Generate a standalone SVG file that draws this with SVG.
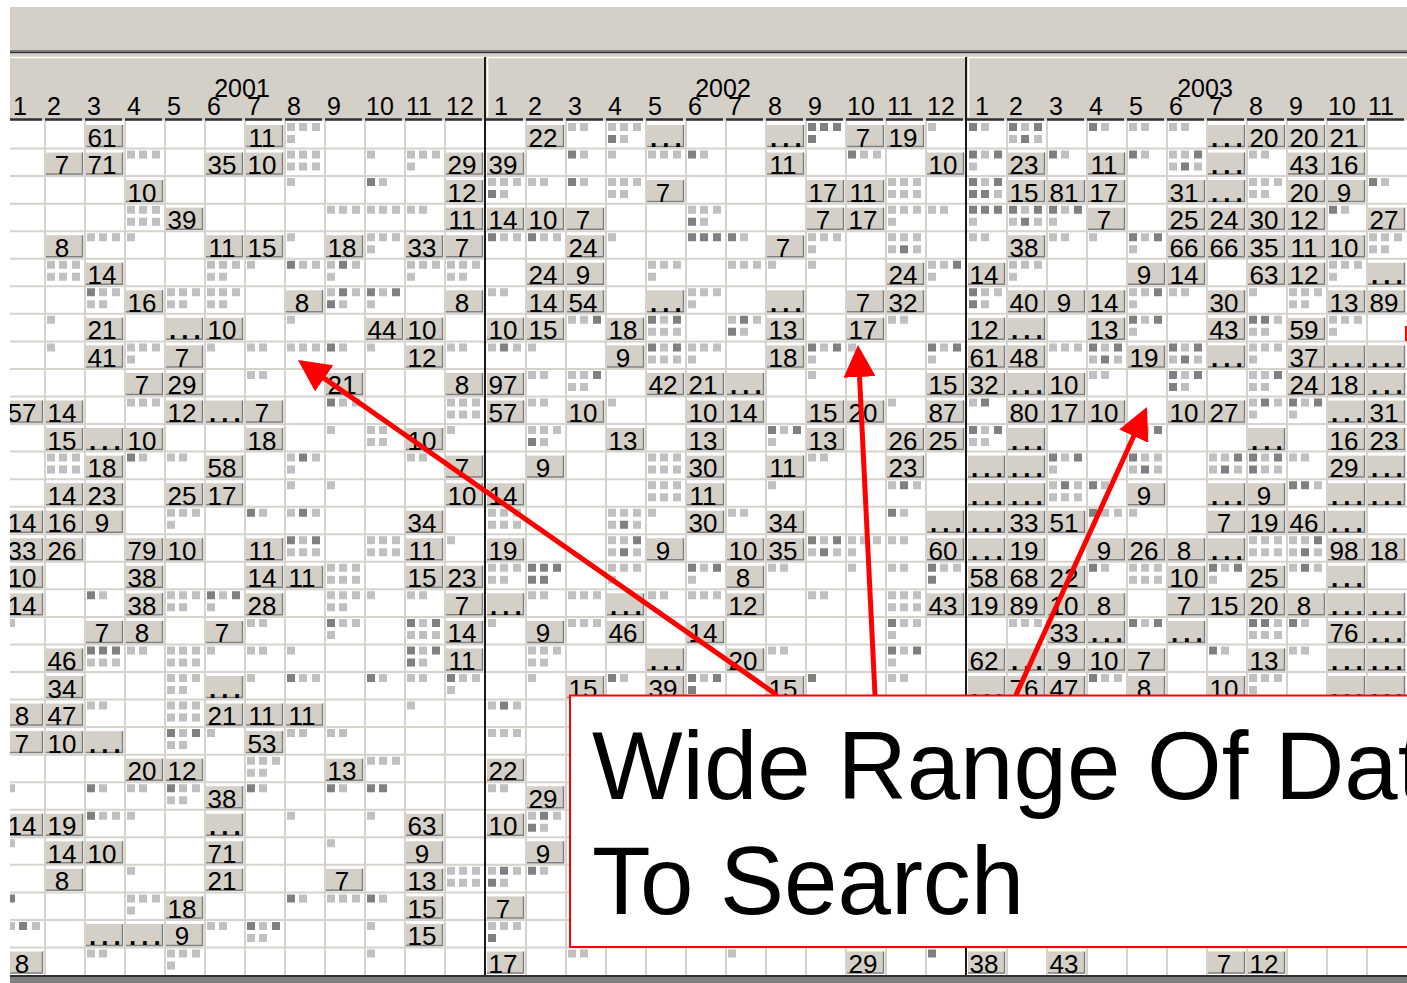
<svg xmlns="http://www.w3.org/2000/svg" width="1407" height="983" viewBox="0 0 1407 983">
<style>
text{font-family:"Liberation Sans",Arial,sans-serif;fill:#000}
.n{font-size:26px;text-anchor:middle}
.e{font-size:26px;letter-spacing:5px;font-weight:bold}
.h{font-size:25px}
.yr{font-size:25px;text-anchor:middle}
.L{fill:none;stroke:#c0c0c0;stroke-width:8}
.D{fill:none;stroke:#808080;stroke-width:8}
.grid{fill:none;stroke:#d6d3cc;stroke-width:2}
.ul{fill:none;stroke:#303030;stroke-width:2.5}
.arrow{fill:none;stroke:#ff0000;stroke-width:5;marker-end:url(#ah)}
.callout{fill:#fff;stroke:#ff0000;stroke-width:2}
.ct{font-size:96px}
</style>
<defs>
<g id="b"><rect x="1" y="4" width="37" height="22" fill="#d4d0c8"/><path d="M37.5 4V25.5H1" fill="none" stroke="#808080" stroke-width="1.5"/></g>
<marker id="ah" viewBox="0 0 32 32" markerUnits="userSpaceOnUse" markerWidth="32" markerHeight="32" refX="26" refY="16" orient="auto"><path d="M0 0L32 16L0 32z" fill="#ff0000"/></marker>
</defs>
<rect x="0" y="0" width="1407" height="983" fill="#fff"/>
<g id="toolbar">
<rect x="10" y="7" width="1397" height="43" fill="#d4d0c8"/>
<rect x="10" y="50" width="1397" height="1.5" fill="#808080"/>
<rect x="10" y="51.5" width="1397" height="2" fill="#303030"/>
<rect x="10" y="53.5" width="1397" height="67" fill="#d4d0c8"/>
<path d="M10 57.5H484M487 57.5H965M968 57.5H1407M487.5 58V117M968.5 58V117" fill="none" stroke="#fff" stroke-width="1.5"/>
</g>
<g id="gridlines">
<path class="grid" d="M45 121V975M85 121V975M125 121V975M165 121V975M205 121V975M245 121V975M285 121V975M325 121V975M365 121V975M405 121V975M445 121V975M526 121V975M566 121V975M606 121V975M646 121V975M686 121V975M726 121V975M766 121V975M806 121V975M846 121V975M886 121V975M926 121V975M1007 121V975M1047 121V975M1087 121V975M1127 121V975M1167 121V975M1207 121V975M1247 121V975M1287 121V975M1327 121V975M1367 121V975"/>
<path class="grid" d="M10 148.55H1407M10 176.1H1407M10 203.65H1407M10 231.2H1407M10 258.75H1407M10 286.3H1407M10 313.85H1407M10 341.4H1407M10 368.95H1407M10 396.5H1407M10 424.05H1407M10 451.6H1407M10 479.15H1407M10 506.7H1407M10 534.25H1407M10 561.8H1407M10 589.35H1407M10 616.9H1407M10 644.45H1407M10 672H1407M10 699.55H1407M10 727.1H1407M10 754.65H1407M10 782.2H1407M10 809.75H1407M10 837.3H1407M10 864.85H1407M10 892.4H1407M10 919.95H1407M10 947.5H1407"/>
</g>
<g id="header">
<path class="ul" d="M5 119.5h37M45 119.5h37M85 119.5h37M125 119.5h37M165 119.5h37M205 119.5h37M245 119.5h37M285 119.5h37M325 119.5h37M365 119.5h37M405 119.5h37M445 119.5h37M486 119.5h37M526 119.5h37M566 119.5h37M606 119.5h37M646 119.5h37M686 119.5h37M726 119.5h37M766 119.5h37M806 119.5h37M846 119.5h37M886 119.5h37M926 119.5h37M967 119.5h37M1007 119.5h37M1047 119.5h37M1087 119.5h37M1127 119.5h37M1167 119.5h37M1207 119.5h37M1247 119.5h37M1287 119.5h37M1327 119.5h37M1367 119.5h37"/>
<text class="yr" x="242" y="97">2001</text>
<text class="yr" x="723" y="97">2002</text>
<text class="yr" x="1205" y="97">2003</text>
<text class="h" x="13" y="115">1</text><text class="h" x="47" y="115">2</text><text class="h" x="87" y="115">3</text><text class="h" x="127" y="115">4</text><text class="h" x="167" y="115">5</text><text class="h" x="207" y="115">6</text><text class="h" x="247" y="115">7</text><text class="h" x="287" y="115">8</text><text class="h" x="327" y="115">9</text><text class="h" x="366" y="115">10</text><text class="h" x="406" y="115">11</text><text class="h" x="446" y="115">12</text>
<text class="h" x="494" y="115">1</text><text class="h" x="528" y="115">2</text><text class="h" x="568" y="115">3</text><text class="h" x="608" y="115">4</text><text class="h" x="648" y="115">5</text><text class="h" x="688" y="115">6</text><text class="h" x="728" y="115">7</text><text class="h" x="768" y="115">8</text><text class="h" x="808" y="115">9</text><text class="h" x="847" y="115">10</text><text class="h" x="887" y="115">11</text><text class="h" x="927" y="115">12</text>
<text class="h" x="975" y="115">1</text><text class="h" x="1009" y="115">2</text><text class="h" x="1049" y="115">3</text><text class="h" x="1089" y="115">4</text><text class="h" x="1129" y="115">5</text><text class="h" x="1169" y="115">6</text><text class="h" x="1209" y="115">7</text><text class="h" x="1249" y="115">8</text><text class="h" x="1289" y="115">9</text><text class="h" x="1328" y="115">10</text><text class="h" x="1368" y="115">11</text>
</g>
<g id="r0" transform="translate(0,121)">
<path class="L" d="M287 6h8m4 0h8m5 0h8M287 18h8M568 6h8m4 0h8M608 6h8m4 0h8m5 0h8M620 18h8M928 6h8M981 6h8M1021 6h8M1009 18h8M1034 18h8M1101 6h8M1129 6h8m4 0h8M1169 6h8m4 0h8"/>
<path class="D" d="M608 18h8M808 6h8m4 0h8m5 0h8M808 18h8M969 6h8M1009 6h8M1034 6h8M1021 18h8M1089 6h8"/>
<use href="#b" x="85"/><text class="n" x="102" y="25.5">61</text>
<use href="#b" x="245"/><text class="n" x="262" y="25.5">11</text>
<use href="#b" x="526"/><text class="n" x="543" y="25.5">22</text>
<use href="#b" x="646"/><text class="e" x="650" y="25.5">...</text>
<use href="#b" x="766"/><text class="e" x="770" y="25.5">...</text>
<use href="#b" x="846"/><text class="n" x="863" y="25.5">7</text>
<use href="#b" x="886"/><text class="n" x="903" y="25.5">19</text>
<use href="#b" x="1207"/><text class="e" x="1211" y="25.5">...</text>
<use href="#b" x="1247"/><text class="n" x="1264" y="25.5">20</text>
<use href="#b" x="1287"/><text class="n" x="1304" y="25.5">20</text>
<use href="#b" x="1327"/><text class="n" x="1344" y="25.5">21</text>
</g>
<g id="r1" transform="translate(0,148.55)">
<path class="L" d="M127 6h8m4 0h8m5 0h8M287 6h8m4 0h8m5 0h8M287 18h8m4 0h8m5 0h8M367 6h8M407 6h8m4 0h8m5 0h8M407 18h8M580 6h8M608 6h8M648 6h8m4 0h8m5 0h8M700 6h8M860 6h8m5 0h8M981 6h8M969 18h8M1061 6h8M1141 6h8M1169 6h8m4 0h8M1169 18h8M1194 18h8M1249 6h8m4 0h8"/>
<path class="D" d="M568 6h8M688 6h8M848 6h8M969 6h8M994 6h8M1049 6h8M1129 6h8M1194 6h8M1181 18h8"/>
<use href="#b" x="45"/><text class="n" x="62" y="25.5">7</text>
<use href="#b" x="85"/><text class="n" x="102" y="25.5">71</text>
<use href="#b" x="205"/><text class="n" x="222" y="25.5">35</text>
<use href="#b" x="245"/><text class="n" x="262" y="25.5">10</text>
<use href="#b" x="445"/><text class="n" x="462" y="25.5">29</text>
<use href="#b" x="486"/><text class="n" x="503" y="25.5">39</text>
<use href="#b" x="766"/><text class="n" x="783" y="25.5">11</text>
<use href="#b" x="926"/><text class="n" x="943" y="25.5">10</text>
<use href="#b" x="1007"/><text class="n" x="1024" y="25.5">23</text>
<use href="#b" x="1087"/><text class="n" x="1104" y="25.5">11</text>
<use href="#b" x="1207"/><text class="e" x="1211" y="25.5">...</text>
<use href="#b" x="1287"/><text class="n" x="1304" y="25.5">43</text>
<use href="#b" x="1327"/><text class="n" x="1344" y="25.5">16</text>
</g>
<g id="r2" transform="translate(0,176.1)">
<path class="L" d="M287 6h8M379 6h8M488 6h8m4 0h8m5 0h8M500 18h8M528 6h8m4 0h8M580 6h8M608 6h8m4 0h8m5 0h8M608 18h8m4 0h8M888 6h8m4 0h8m5 0h8M888 18h8m4 0h8m5 0h8M981 6h8M994 18h8M1249 6h8m4 0h8m5 0h8M1249 18h8m4 0h8M1381 6h8"/>
<path class="D" d="M367 6h8M488 18h8M568 6h8M969 6h8M994 6h8M969 18h8m4 0h8M1369 6h8"/>
<use href="#b" x="125"/><text class="n" x="142" y="25.5">10</text>
<use href="#b" x="445"/><text class="n" x="462" y="25.5">12</text>
<use href="#b" x="646"/><text class="n" x="663" y="25.5">7</text>
<use href="#b" x="806"/><text class="n" x="823" y="25.5">17</text>
<use href="#b" x="846"/><text class="n" x="863" y="25.5">11</text>
<use href="#b" x="1007"/><text class="n" x="1024" y="25.5">15</text>
<use href="#b" x="1047"/><text class="n" x="1064" y="25.5">81</text>
<use href="#b" x="1087"/><text class="n" x="1104" y="25.5">17</text>
<use href="#b" x="1167"/><text class="n" x="1184" y="25.5">31</text>
<use href="#b" x="1207"/><text class="e" x="1211" y="25.5">...</text>
<use href="#b" x="1287"/><text class="n" x="1304" y="25.5">20</text>
<use href="#b" x="1327"/><text class="n" x="1344" y="25.5">9</text>
</g>
<g id="r3" transform="translate(0,203.65)">
<path class="L" d="M127 6h8m4 0h8m5 0h8M127 18h8m4 0h8m5 0h8M327 6h8m4 0h8m5 0h8M367 6h8m4 0h8m5 0h8M407 6h8m4 0h8M688 6h8m4 0h8m5 0h8M700 18h8M888 6h8m4 0h8m5 0h8M888 18h8M928 6h8m4 0h8M969 18h8M1021 6h8M1009 18h8M1034 18h8M1061 6h8M1049 18h8M1341 6h8"/>
<path class="D" d="M688 18h8M969 6h8m4 0h8m5 0h8M1009 6h8M1034 6h8M1021 18h8M1049 6h8M1074 6h8M1329 6h8"/>
<use href="#b" x="165"/><text class="n" x="182" y="25.5">39</text>
<use href="#b" x="445"/><text class="n" x="462" y="25.5">11</text>
<use href="#b" x="486"/><text class="n" x="503" y="25.5">14</text>
<use href="#b" x="526"/><text class="n" x="543" y="25.5">10</text>
<use href="#b" x="566"/><text class="n" x="583" y="25.5">7</text>
<use href="#b" x="806"/><text class="n" x="823" y="25.5">7</text>
<use href="#b" x="846"/><text class="n" x="863" y="25.5">17</text>
<use href="#b" x="1087"/><text class="n" x="1104" y="25.5">7</text>
<use href="#b" x="1167"/><text class="n" x="1184" y="25.5">25</text>
<use href="#b" x="1207"/><text class="n" x="1224" y="25.5">24</text>
<use href="#b" x="1247"/><text class="n" x="1264" y="25.5">30</text>
<use href="#b" x="1287"/><text class="n" x="1304" y="25.5">12</text>
<use href="#b" x="1367"/><text class="n" x="1384" y="25.5">27</text>
</g>
<g id="r4" transform="translate(0,231.2)">
<path class="L" d="M87 6h8m4 0h8m5 0h8M127 6h8M287 6h8M367 6h8m4 0h8m5 0h8M367 18h8M500 6h8m5 0h8M540 6h8m5 0h8M608 6h8M740 6h8M808 6h8m4 0h8m5 0h8M808 18h8M888 6h8m4 0h8m5 0h8M888 18h8M913 18h8M969 6h8m4 0h8M1049 6h8m4 0h8M1089 6h8M1141 6h8M1129 18h8M1369 6h8m4 0h8m5 0h8M1369 18h8m4 0h8"/>
<path class="D" d="M488 6h8M528 6h8M688 6h8m4 0h8m5 0h8M728 6h8M900 18h8M1129 6h8M1154 6h8"/>
<use href="#b" x="45"/><text class="n" x="62" y="25.5">8</text>
<use href="#b" x="205"/><text class="n" x="222" y="25.5">11</text>
<use href="#b" x="245"/><text class="n" x="262" y="25.5">15</text>
<use href="#b" x="325"/><text class="n" x="342" y="25.5">18</text>
<use href="#b" x="405"/><text class="n" x="422" y="25.5">33</text>
<use href="#b" x="445"/><text class="n" x="462" y="25.5">7</text>
<use href="#b" x="566"/><text class="n" x="583" y="25.5">24</text>
<use href="#b" x="766"/><text class="n" x="783" y="25.5">7</text>
<use href="#b" x="1007"/><text class="n" x="1024" y="25.5">38</text>
<use href="#b" x="1167"/><text class="n" x="1184" y="25.5">66</text>
<use href="#b" x="1207"/><text class="n" x="1224" y="25.5">66</text>
<use href="#b" x="1247"/><text class="n" x="1264" y="25.5">35</text>
<use href="#b" x="1287"/><text class="n" x="1304" y="25.5">11</text>
<use href="#b" x="1327"/><text class="n" x="1344" y="25.5">10</text>
</g>
<g id="r5" transform="translate(0,258.75)">
<path class="L" d="M47 6h8m4 0h8m5 0h8M47 18h8m4 0h8m5 0h8M207 6h8m4 0h8m5 0h8M207 18h8m4 0h8M247 6h8M299 6h8m5 0h8M327 6h8M352 6h8M327 18h8M407 6h8m4 0h8m5 0h8M407 18h8M447 6h8m4 0h8m5 0h8M447 18h8m4 0h8M648 6h8m4 0h8m5 0h8M648 18h8M728 6h8m4 0h8m5 0h8M768 6h8M808 6h8M928 6h8m4 0h8M928 18h8M1009 6h8m4 0h8m5 0h8M1009 18h8M1329 6h8m4 0h8m5 0h8M1329 18h8"/>
<path class="D" d="M287 6h8M339 6h8M953 6h8"/>
<use href="#b" x="85"/><text class="n" x="102" y="25.5">14</text>
<use href="#b" x="526"/><text class="n" x="543" y="25.5">24</text>
<use href="#b" x="566"/><text class="n" x="583" y="25.5">9</text>
<use href="#b" x="886"/><text class="n" x="903" y="25.5">24</text>
<use href="#b" x="967"/><text class="n" x="984" y="25.5">14</text>
<use href="#b" x="1127"/><text class="n" x="1144" y="25.5">9</text>
<use href="#b" x="1167"/><text class="n" x="1184" y="25.5">14</text>
<use href="#b" x="1247"/><text class="n" x="1264" y="25.5">63</text>
<use href="#b" x="1287"/><text class="n" x="1304" y="25.5">12</text>
<use href="#b" x="1367"/><text class="e" x="1371" y="25.5">...</text>
</g>
<g id="r6" transform="translate(0,286.3)">
<path class="L" d="M99 6h8m5 0h8M87 18h8m4 0h8M167 6h8m4 0h8m5 0h8M167 18h8m4 0h8M207 6h8m4 0h8m5 0h8M207 18h8m4 0h8M327 6h8M352 6h8M339 18h8M379 6h8M367 18h8M488 6h8m4 0h8M688 6h8m4 0h8m5 0h8M688 18h8M981 6h8m5 0h8M981 18h8M1129 6h8m4 0h8M1129 18h8M1169 6h8m4 0h8M1249 6h8M1289 6h8m4 0h8m5 0h8M1289 18h8m4 0h8"/>
<path class="D" d="M87 6h8M339 6h8M327 18h8M367 6h8M392 6h8M969 6h8M969 18h8M1154 6h8"/>
<use href="#b" x="125"/><text class="n" x="142" y="25.5">16</text>
<use href="#b" x="285"/><text class="n" x="302" y="25.5">8</text>
<use href="#b" x="445"/><text class="n" x="462" y="25.5">8</text>
<use href="#b" x="526"/><text class="n" x="543" y="25.5">14</text>
<use href="#b" x="566"/><text class="n" x="583" y="25.5">54</text>
<use href="#b" x="646"/><text class="e" x="650" y="25.5">...</text>
<use href="#b" x="766"/><text class="e" x="770" y="25.5">...</text>
<use href="#b" x="846"/><text class="n" x="863" y="25.5">7</text>
<use href="#b" x="886"/><text class="n" x="903" y="25.5">32</text>
<use href="#b" x="1007"/><text class="n" x="1024" y="25.5">40</text>
<use href="#b" x="1047"/><text class="n" x="1064" y="25.5">9</text>
<use href="#b" x="1087"/><text class="n" x="1104" y="25.5">14</text>
<use href="#b" x="1207"/><text class="n" x="1224" y="25.5">30</text>
<use href="#b" x="1327"/><text class="n" x="1344" y="25.5">13</text>
<use href="#b" x="1367"/><text class="n" x="1384" y="25.5">89</text>
</g>
<g id="r7" transform="translate(0,313.85)">
<path class="L" d="M47 6h8M287 6h8M568 6h8m4 0h8M660 6h8M648 18h8m4 0h8m5 0h8M728 6h8M753 6h8M740 18h8M888 6h8m4 0h8M1141 6h8M1129 18h8M1274 6h8M1249 18h8m4 0h8M1329 6h8m4 0h8m5 0h8M1329 18h8"/>
<path class="D" d="M593 6h8M648 6h8M673 6h8M740 6h8M728 18h8M1129 6h8M1154 6h8M1249 6h8m4 0h8"/>
<use href="#b" x="85"/><text class="n" x="102" y="25.5">21</text>
<use href="#b" x="165"/><text class="e" x="169" y="25.5">...</text>
<use href="#b" x="205"/><text class="n" x="222" y="25.5">10</text>
<use href="#b" x="365"/><text class="n" x="382" y="25.5">44</text>
<use href="#b" x="405"/><text class="n" x="422" y="25.5">10</text>
<use href="#b" x="486"/><text class="n" x="503" y="25.5">10</text>
<use href="#b" x="526"/><text class="n" x="543" y="25.5">15</text>
<use href="#b" x="606"/><text class="n" x="623" y="25.5">18</text>
<use href="#b" x="766"/><text class="n" x="783" y="25.5">13</text>
<use href="#b" x="846"/><text class="n" x="863" y="25.5">17</text>
<use href="#b" x="967"/><text class="n" x="984" y="25.5">12</text>
<use href="#b" x="1007"/><text class="e" x="1011" y="25.5">...</text>
<use href="#b" x="1087"/><text class="n" x="1104" y="25.5">13</text>
<use href="#b" x="1207"/><text class="n" x="1224" y="25.5">43</text>
<use href="#b" x="1287"/><text class="n" x="1304" y="25.5">59</text>
</g>
<g id="r8" transform="translate(0,341.4)">
<path class="L" d="M47 6h8M127 6h8m4 0h8m5 0h8M127 18h8M207 6h8M247 6h8m4 0h8M287 6h8m4 0h8m5 0h8M339 6h8M367 6h8M447 6h8m4 0h8M488 6h8M513 6h8M528 6h8M660 6h8M648 18h8m4 0h8m5 0h8M688 6h8m4 0h8m5 0h8M688 18h8M820 6h8M808 18h8M848 6h8M940 6h8M928 18h8M1049 6h8m4 0h8m5 0h8M1101 6h8M1089 18h8M1114 18h8M1181 6h8M1169 18h8M1194 18h8M1249 6h8m4 0h8m5 0h8M1249 18h8"/>
<path class="D" d="M327 6h8M500 6h8M648 6h8M673 6h8M808 6h8M833 6h8M928 6h8M953 6h8M1089 6h8M1114 6h8M1101 18h8M1169 6h8M1194 6h8M1181 18h8"/>
<use href="#b" x="85"/><text class="n" x="102" y="25.5">41</text>
<use href="#b" x="165"/><text class="n" x="182" y="25.5">7</text>
<use href="#b" x="405"/><text class="n" x="422" y="25.5">12</text>
<use href="#b" x="606"/><text class="n" x="623" y="25.5">9</text>
<use href="#b" x="766"/><text class="n" x="783" y="25.5">18</text>
<use href="#b" x="967"/><text class="n" x="984" y="25.5">61</text>
<use href="#b" x="1007"/><text class="n" x="1024" y="25.5">48</text>
<use href="#b" x="1127"/><text class="n" x="1144" y="25.5">19</text>
<use href="#b" x="1207"/><text class="e" x="1211" y="25.5">...</text>
<use href="#b" x="1287"/><text class="n" x="1304" y="25.5">37</text>
<use href="#b" x="1327"/><text class="e" x="1331" y="25.5">...</text>
<use href="#b" x="1367"/><text class="e" x="1371" y="25.5">...</text>
</g>
<g id="r9" transform="translate(0,368.95)">
<path class="L" d="M247 6h8m4 0h8M528 6h8m4 0h8M568 6h8m4 0h8M568 18h8m4 0h8M808 6h8M1089 6h8m4 0h8M1181 6h8M1181 18h8M1249 6h8m4 0h8M1249 18h8m4 0h8"/>
<path class="D" d="M593 6h8M1169 6h8M1194 6h8M1169 18h8M1274 6h8"/>
<use href="#b" x="125"/><text class="n" x="142" y="25.5">7</text>
<use href="#b" x="165"/><text class="n" x="182" y="25.5">29</text>
<use href="#b" x="325"/><text class="n" x="342" y="25.5">21</text>
<use href="#b" x="445"/><text class="n" x="462" y="25.5">8</text>
<use href="#b" x="486"/><text class="n" x="503" y="25.5">97</text>
<use href="#b" x="646"/><text class="n" x="663" y="25.5">42</text>
<use href="#b" x="686"/><text class="n" x="703" y="25.5">21</text>
<use href="#b" x="726"/><text class="e" x="730" y="25.5">...</text>
<use href="#b" x="926"/><text class="n" x="943" y="25.5">15</text>
<use href="#b" x="967"/><text class="n" x="984" y="25.5">32</text>
<use href="#b" x="1007"/><text class="e" x="1011" y="25.5">...</text>
<use href="#b" x="1047"/><text class="n" x="1064" y="25.5">10</text>
<use href="#b" x="1287"/><text class="n" x="1304" y="25.5">24</text>
<use href="#b" x="1327"/><text class="n" x="1344" y="25.5">18</text>
<use href="#b" x="1367"/><text class="e" x="1371" y="25.5">...</text>
</g>
<g id="r10" transform="translate(0,396.5)">
<path class="L" d="M127 6h8m4 0h8m5 0h8M339 6h8m5 0h8M447 6h8m4 0h8m5 0h8M447 18h8m4 0h8m5 0h8M528 6h8m4 0h8M608 6h8M888 6h8M969 6h8M1249 6h8M1274 6h8M1249 18h8M1301 6h8M1289 18h8"/>
<path class="D" d="M327 6h8M981 6h8M1261 6h8M1289 6h8M1314 6h8"/>
<use href="#b" x="5"/><text class="n" x="22" y="25.5">57</text>
<use href="#b" x="45"/><text class="n" x="62" y="25.5">14</text>
<use href="#b" x="165"/><text class="n" x="182" y="25.5">12</text>
<use href="#b" x="205"/><text class="e" x="209" y="25.5">...</text>
<use href="#b" x="245"/><text class="n" x="262" y="25.5">7</text>
<use href="#b" x="486"/><text class="n" x="503" y="25.5">57</text>
<use href="#b" x="566"/><text class="n" x="583" y="25.5">10</text>
<use href="#b" x="686"/><text class="n" x="703" y="25.5">10</text>
<use href="#b" x="726"/><text class="n" x="743" y="25.5">14</text>
<use href="#b" x="806"/><text class="n" x="823" y="25.5">15</text>
<use href="#b" x="846"/><text class="n" x="863" y="25.5">20</text>
<use href="#b" x="926"/><text class="n" x="943" y="25.5">87</text>
<use href="#b" x="1007"/><text class="n" x="1024" y="25.5">80</text>
<use href="#b" x="1047"/><text class="n" x="1064" y="25.5">17</text>
<use href="#b" x="1087"/><text class="n" x="1104" y="25.5">10</text>
<use href="#b" x="1167"/><text class="n" x="1184" y="25.5">10</text>
<use href="#b" x="1207"/><text class="n" x="1224" y="25.5">27</text>
<use href="#b" x="1327"/><text class="e" x="1331" y="25.5">...</text>
<use href="#b" x="1367"/><text class="n" x="1384" y="25.5">31</text>
</g>
<g id="r11" transform="translate(0,424.05)">
<path class="L" d="M327 6h8M367 6h8m4 0h8M367 18h8m4 0h8M447 6h8M528 6h8m4 0h8m5 0h8M540 18h8M780 6h8M768 18h8M981 6h8M969 18h8m4 0h8M1141 6h8"/>
<path class="D" d="M528 18h8M768 6h8M793 6h8M969 6h8M994 6h8M1154 6h8"/>
<use href="#b" x="45"/><text class="n" x="62" y="25.5">15</text>
<use href="#b" x="85"/><text class="e" x="89" y="25.5">...</text>
<use href="#b" x="125"/><text class="n" x="142" y="25.5">10</text>
<use href="#b" x="245"/><text class="n" x="262" y="25.5">18</text>
<use href="#b" x="405"/><text class="n" x="422" y="25.5">10</text>
<use href="#b" x="606"/><text class="n" x="623" y="25.5">13</text>
<use href="#b" x="686"/><text class="n" x="703" y="25.5">13</text>
<use href="#b" x="806"/><text class="n" x="823" y="25.5">13</text>
<use href="#b" x="886"/><text class="n" x="903" y="25.5">26</text>
<use href="#b" x="926"/><text class="n" x="943" y="25.5">25</text>
<use href="#b" x="1007"/><text class="e" x="1011" y="25.5">...</text>
<use href="#b" x="1247"/><text class="e" x="1251" y="25.5">...</text>
<use href="#b" x="1327"/><text class="n" x="1344" y="25.5">16</text>
<use href="#b" x="1367"/><text class="n" x="1384" y="25.5">23</text>
</g>
<g id="r12" transform="translate(0,451.6)">
<path class="L" d="M47 6h8m4 0h8m5 0h8M47 18h8m4 0h8m5 0h8M139 6h8M167 6h8m4 0h8M287 6h8M312 6h8M287 18h8M407 6h8m4 0h8M648 6h8m4 0h8m5 0h8M648 18h8m4 0h8m5 0h8M808 6h8m4 0h8M1061 6h8M1049 18h8M1141 6h8m5 0h8M1129 18h8M1154 18h8M1209 6h8m4 0h8M1209 18h8M1234 18h8M1261 6h8M1261 18h8m5 0h8M1289 6h8m4 0h8"/>
<path class="D" d="M127 6h8M299 6h8M1049 6h8M1074 6h8M1129 6h8M1141 18h8M1234 6h8M1221 18h8M1249 6h8M1274 6h8M1249 18h8"/>
<use href="#b" x="85"/><text class="n" x="102" y="25.5">18</text>
<use href="#b" x="205"/><text class="n" x="222" y="25.5">58</text>
<use href="#b" x="445"/><text class="n" x="462" y="25.5">7</text>
<use href="#b" x="526"/><text class="n" x="543" y="25.5">9</text>
<use href="#b" x="686"/><text class="n" x="703" y="25.5">30</text>
<use href="#b" x="766"/><text class="n" x="783" y="25.5">11</text>
<use href="#b" x="886"/><text class="n" x="903" y="25.5">23</text>
<use href="#b" x="967"/><text class="e" x="971" y="25.5">...</text>
<use href="#b" x="1007"/><text class="e" x="1011" y="25.5">...</text>
<use href="#b" x="1327"/><text class="n" x="1344" y="25.5">29</text>
<use href="#b" x="1367"/><text class="e" x="1371" y="25.5">...</text>
</g>
<g id="r13" transform="translate(0,479.15)">
<path class="L" d="M287 6h8M327 6h8M648 6h8m4 0h8m5 0h8M648 18h8m4 0h8m5 0h8M768 6h8M888 6h8M913 6h8M1049 6h8M1074 6h8M1049 18h8m4 0h8m5 0h8M1101 6h8M1314 6h8"/>
<path class="D" d="M900 6h8M1061 6h8M1089 6h8M1289 6h8m4 0h8"/>
<use href="#b" x="45"/><text class="n" x="62" y="25.5">14</text>
<use href="#b" x="85"/><text class="n" x="102" y="25.5">23</text>
<use href="#b" x="165"/><text class="n" x="182" y="25.5">25</text>
<use href="#b" x="205"/><text class="n" x="222" y="25.5">17</text>
<use href="#b" x="445"/><text class="n" x="462" y="25.5">10</text>
<use href="#b" x="486"/><text class="n" x="503" y="25.5">14</text>
<use href="#b" x="686"/><text class="n" x="703" y="25.5">11</text>
<use href="#b" x="967"/><text class="e" x="971" y="25.5">...</text>
<use href="#b" x="1007"/><text class="e" x="1011" y="25.5">...</text>
<use href="#b" x="1127"/><text class="n" x="1144" y="25.5">9</text>
<use href="#b" x="1207"/><text class="e" x="1211" y="25.5">...</text>
<use href="#b" x="1247"/><text class="n" x="1264" y="25.5">9</text>
<use href="#b" x="1327"/><text class="e" x="1331" y="25.5">...</text>
<use href="#b" x="1367"/><text class="e" x="1371" y="25.5">...</text>
</g>
<g id="r14" transform="translate(0,506.7)">
<path class="L" d="M167 6h8m4 0h8m5 0h8M167 18h8M259 6h8M287 6h8M312 6h8M488 6h8m4 0h8m5 0h8M488 18h8m4 0h8m5 0h8M608 6h8m4 0h8m5 0h8M608 18h8M633 18h8M648 6h8M728 6h8m4 0h8M900 6h8M1101 6h8m5 0h8M1129 6h8"/>
<path class="D" d="M247 6h8M299 6h8M620 18h8M888 6h8M1089 6h8"/>
<use href="#b" x="5"/><text class="n" x="22" y="25.5">14</text>
<use href="#b" x="45"/><text class="n" x="62" y="25.5">16</text>
<use href="#b" x="85"/><text class="n" x="102" y="25.5">9</text>
<use href="#b" x="405"/><text class="n" x="422" y="25.5">34</text>
<use href="#b" x="686"/><text class="n" x="703" y="25.5">30</text>
<use href="#b" x="766"/><text class="n" x="783" y="25.5">34</text>
<use href="#b" x="926"/><text class="e" x="930" y="25.5">...</text>
<use href="#b" x="967"/><text class="e" x="971" y="25.5">...</text>
<use href="#b" x="1007"/><text class="n" x="1024" y="25.5">33</text>
<use href="#b" x="1047"/><text class="n" x="1064" y="25.5">51</text>
<use href="#b" x="1207"/><text class="n" x="1224" y="25.5">7</text>
<use href="#b" x="1247"/><text class="n" x="1264" y="25.5">19</text>
<use href="#b" x="1287"/><text class="n" x="1304" y="25.5">46</text>
<use href="#b" x="1327"/><text class="e" x="1331" y="25.5">...</text>
</g>
<g id="r15" transform="translate(0,534.25)">
<path class="L" d="M299 6h8M287 18h8m4 0h8m5 0h8M367 6h8m4 0h8m5 0h8M367 18h8m4 0h8m5 0h8M447 6h8M608 6h8m4 0h8M608 18h8M633 18h8M820 6h8M808 18h8M833 18h8M848 6h8m4 0h8m5 0h8M848 18h8M888 6h8m4 0h8M1249 6h8m4 0h8m5 0h8M1249 18h8m4 0h8m5 0h8M1289 6h8m4 0h8M1289 18h8M1314 18h8"/>
<path class="D" d="M287 6h8M312 6h8M633 6h8M620 18h8M808 6h8M833 6h8M820 18h8M1314 6h8M1301 18h8"/>
<use href="#b" x="5"/><text class="n" x="22" y="25.5">33</text>
<use href="#b" x="45"/><text class="n" x="62" y="25.5">26</text>
<use href="#b" x="125"/><text class="n" x="142" y="25.5">79</text>
<use href="#b" x="165"/><text class="n" x="182" y="25.5">10</text>
<use href="#b" x="245"/><text class="n" x="262" y="25.5">11</text>
<use href="#b" x="405"/><text class="n" x="422" y="25.5">11</text>
<use href="#b" x="486"/><text class="n" x="503" y="25.5">19</text>
<use href="#b" x="646"/><text class="n" x="663" y="25.5">9</text>
<use href="#b" x="726"/><text class="n" x="743" y="25.5">10</text>
<use href="#b" x="766"/><text class="n" x="783" y="25.5">35</text>
<use href="#b" x="926"/><text class="n" x="943" y="25.5">60</text>
<use href="#b" x="967"/><text class="e" x="971" y="25.5">...</text>
<use href="#b" x="1007"/><text class="n" x="1024" y="25.5">19</text>
<use href="#b" x="1087"/><text class="n" x="1104" y="25.5">9</text>
<use href="#b" x="1127"/><text class="n" x="1144" y="25.5">26</text>
<use href="#b" x="1167"/><text class="n" x="1184" y="25.5">8</text>
<use href="#b" x="1207"/><text class="e" x="1211" y="25.5">...</text>
<use href="#b" x="1327"/><text class="n" x="1344" y="25.5">98</text>
<use href="#b" x="1367"/><text class="n" x="1384" y="25.5">18</text>
</g>
<g id="r16" transform="translate(0,561.8)">
<path class="L" d="M327 6h8m4 0h8m5 0h8M327 18h8m4 0h8m5 0h8M488 6h8m4 0h8m5 0h8M488 18h8m4 0h8M608 6h8m4 0h8m5 0h8M608 18h8M700 6h8M688 18h8M768 6h8m4 0h8M848 6h8M888 6h8m4 0h8M940 6h8m5 0h8M1101 6h8M1129 6h8m4 0h8m5 0h8M1129 18h8m4 0h8m5 0h8M1221 6h8M1209 18h8M1289 6h8M1314 6h8"/>
<path class="D" d="M528 6h8m4 0h8m5 0h8M528 18h8m4 0h8M688 6h8M713 6h8M928 6h8M928 18h8M1089 6h8M1209 6h8M1234 6h8M1301 6h8"/>
<use href="#b" x="5"/><text class="n" x="22" y="25.5">10</text>
<use href="#b" x="125"/><text class="n" x="142" y="25.5">38</text>
<use href="#b" x="245"/><text class="n" x="262" y="25.5">14</text>
<use href="#b" x="285"/><text class="n" x="302" y="25.5">11</text>
<use href="#b" x="405"/><text class="n" x="422" y="25.5">15</text>
<use href="#b" x="445"/><text class="n" x="462" y="25.5">23</text>
<use href="#b" x="726"/><text class="n" x="743" y="25.5">8</text>
<use href="#b" x="967"/><text class="n" x="984" y="25.5">58</text>
<use href="#b" x="1007"/><text class="n" x="1024" y="25.5">68</text>
<use href="#b" x="1047"/><text class="n" x="1064" y="25.5">22</text>
<use href="#b" x="1167"/><text class="n" x="1184" y="25.5">10</text>
<use href="#b" x="1247"/><text class="n" x="1264" y="25.5">25</text>
<use href="#b" x="1327"/><text class="e" x="1331" y="25.5">...</text>
</g>
<g id="r17" transform="translate(0,589.35)">
<path class="L" d="M99 6h8M167 6h8m4 0h8m5 0h8M167 18h8m4 0h8M219 6h8M207 18h8M327 6h8m4 0h8m5 0h8M327 18h8m4 0h8M367 6h8M407 6h8m4 0h8M528 6h8m4 0h8M568 6h8m4 0h8m5 0h8M648 6h8m4 0h8M688 6h8m4 0h8m5 0h8M808 6h8m4 0h8M888 6h8m4 0h8m5 0h8M888 18h8m4 0h8m5 0h8"/>
<path class="D" d="M87 6h8M207 6h8M232 6h8"/>
<use href="#b" x="5"/><text class="n" x="22" y="25.5">14</text>
<use href="#b" x="125"/><text class="n" x="142" y="25.5">38</text>
<use href="#b" x="245"/><text class="n" x="262" y="25.5">28</text>
<use href="#b" x="445"/><text class="n" x="462" y="25.5">7</text>
<use href="#b" x="486"/><text class="e" x="490" y="25.5">...</text>
<use href="#b" x="606"/><text class="e" x="610" y="25.5">...</text>
<use href="#b" x="726"/><text class="n" x="743" y="25.5">12</text>
<use href="#b" x="926"/><text class="n" x="943" y="25.5">43</text>
<use href="#b" x="967"/><text class="n" x="984" y="25.5">19</text>
<use href="#b" x="1007"/><text class="n" x="1024" y="25.5">89</text>
<use href="#b" x="1047"/><text class="n" x="1064" y="25.5">10</text>
<use href="#b" x="1087"/><text class="n" x="1104" y="25.5">8</text>
<use href="#b" x="1167"/><text class="n" x="1184" y="25.5">7</text>
<use href="#b" x="1207"/><text class="n" x="1224" y="25.5">15</text>
<use href="#b" x="1247"/><text class="n" x="1264" y="25.5">20</text>
<use href="#b" x="1287"/><text class="n" x="1304" y="25.5">8</text>
<use href="#b" x="1327"/><text class="e" x="1331" y="25.5">...</text>
<use href="#b" x="1367"/><text class="e" x="1371" y="25.5">...</text>
</g>
<g id="r18" transform="translate(0,616.9)">
<path class="L" d="M7 6h8M247 6h8m4 0h8M339 6h8m5 0h8M327 18h8M419 6h8M407 18h8m4 0h8m5 0h8M488 6h8M568 6h8m4 0h8m5 0h8M900 6h8m5 0h8M888 18h8M1009 6h8m4 0h8m5 0h8M1141 6h8M1274 6h8M1249 18h8m4 0h8m5 0h8M1301 6h8"/>
<path class="D" d="M327 6h8M407 6h8M432 6h8M888 6h8M1129 6h8M1154 6h8M1249 6h8m4 0h8M1289 6h8"/>
<use href="#b" x="85"/><text class="n" x="102" y="25.5">7</text>
<use href="#b" x="125"/><text class="n" x="142" y="25.5">8</text>
<use href="#b" x="205"/><text class="n" x="222" y="25.5">7</text>
<use href="#b" x="445"/><text class="n" x="462" y="25.5">14</text>
<use href="#b" x="526"/><text class="n" x="543" y="25.5">9</text>
<use href="#b" x="606"/><text class="n" x="623" y="25.5">46</text>
<use href="#b" x="686"/><text class="n" x="703" y="25.5">14</text>
<use href="#b" x="1047"/><text class="n" x="1064" y="25.5">33</text>
<use href="#b" x="1087"/><text class="e" x="1091" y="25.5">...</text>
<use href="#b" x="1167"/><text class="e" x="1171" y="25.5">...</text>
<use href="#b" x="1327"/><text class="n" x="1344" y="25.5">76</text>
<use href="#b" x="1367"/><text class="e" x="1371" y="25.5">...</text>
</g>
<g id="r19" transform="translate(0,644.45)">
<path class="L" d="M87 18h8m4 0h8m5 0h8M127 6h8m4 0h8M167 6h8m4 0h8m5 0h8M167 18h8m4 0h8m5 0h8M207 6h8M247 6h8m4 0h8M287 6h8M419 6h8M419 18h8M528 6h8m4 0h8m5 0h8M528 18h8m4 0h8M768 6h8m4 0h8M900 6h8M888 18h8M1221 6h8M1289 6h8m4 0h8"/>
<path class="D" d="M87 6h8m4 0h8m5 0h8M407 6h8M432 6h8M407 18h8M888 6h8M913 6h8M1209 6h8"/>
<use href="#b" x="45"/><text class="n" x="62" y="25.5">46</text>
<use href="#b" x="445"/><text class="n" x="462" y="25.5">11</text>
<use href="#b" x="646"/><text class="e" x="650" y="25.5">...</text>
<use href="#b" x="726"/><text class="n" x="743" y="25.5">20</text>
<use href="#b" x="967"/><text class="n" x="984" y="25.5">62</text>
<use href="#b" x="1007"/><text class="e" x="1011" y="25.5">...</text>
<use href="#b" x="1047"/><text class="n" x="1064" y="25.5">9</text>
<use href="#b" x="1087"/><text class="n" x="1104" y="25.5">10</text>
<use href="#b" x="1127"/><text class="n" x="1144" y="25.5">7</text>
<use href="#b" x="1247"/><text class="n" x="1264" y="25.5">13</text>
<use href="#b" x="1327"/><text class="e" x="1331" y="25.5">...</text>
<use href="#b" x="1367"/><text class="e" x="1371" y="25.5">...</text>
</g>
<g id="r20" transform="translate(0,672)">
<path class="L" d="M167 6h8m4 0h8m5 0h8M167 18h8m4 0h8M247 6h8M299 6h8m5 0h8M379 6h8M407 6h8m4 0h8M459 6h8m5 0h8M447 18h8M528 6h8M620 6h8M700 6h8M888 6h8m4 0h8M1101 6h8m5 0h8M1249 6h8m4 0h8m5 0h8M1249 18h8"/>
<path class="D" d="M287 6h8M367 6h8M447 6h8M608 6h8M688 6h8M713 6h8M688 18h8M808 6h8M1089 6h8"/>
<use href="#b" x="45"/><text class="n" x="62" y="25.5">34</text>
<use href="#b" x="205"/><text class="e" x="209" y="25.5">...</text>
<use href="#b" x="566"/><text class="n" x="583" y="25.5">15</text>
<use href="#b" x="646"/><text class="n" x="663" y="25.5">39</text>
<use href="#b" x="766"/><text class="n" x="783" y="25.5">15</text>
<use href="#b" x="967"/><text class="e" x="971" y="25.5">...</text>
<use href="#b" x="1007"/><text class="n" x="1024" y="25.5">76</text>
<use href="#b" x="1047"/><text class="n" x="1064" y="25.5">47</text>
<use href="#b" x="1127"/><text class="n" x="1144" y="25.5">8</text>
<use href="#b" x="1207"/><text class="n" x="1224" y="25.5">10</text>
<use href="#b" x="1327"/><text class="e" x="1331" y="25.5">...</text>
<use href="#b" x="1367"/><text class="e" x="1371" y="25.5">...</text>
</g>
<g id="r21" transform="translate(0,699.55)">
<path class="L" d="M87 6h8m4 0h8M167 6h8m4 0h8m5 0h8M167 18h8m4 0h8m5 0h8M407 6h8M488 6h8M513 6h8"/>
<path class="D" d="M500 6h8"/>
<use href="#b" x="5"/><text class="n" x="22" y="25.5">8</text>
<use href="#b" x="45"/><text class="n" x="62" y="25.5">47</text>
<use href="#b" x="205"/><text class="n" x="222" y="25.5">21</text>
<use href="#b" x="245"/><text class="n" x="262" y="25.5">11</text>
<use href="#b" x="285"/><text class="n" x="302" y="25.5">11</text>
</g>
<g id="r22" transform="translate(0,727.1)">
<path class="L" d="M179 6h8M167 18h8m4 0h8M207 6h8M287 6h8m4 0h8M327 6h8m4 0h8M488 6h8m4 0h8m5 0h8"/>
<path class="D" d="M167 6h8M192 6h8"/>
<use href="#b" x="5"/><text class="n" x="22" y="25.5">7</text>
<use href="#b" x="45"/><text class="n" x="62" y="25.5">10</text>
<use href="#b" x="85"/><text class="e" x="89" y="25.5">...</text>
<use href="#b" x="245"/><text class="n" x="262" y="25.5">53</text>
</g>
<g id="r23" transform="translate(0,754.65)">
<path class="L" d="M247 6h8m4 0h8m5 0h8M247 18h8m4 0h8M367 6h8m4 0h8m5 0h8"/>
<use href="#b" x="125"/><text class="n" x="142" y="25.5">20</text>
<use href="#b" x="165"/><text class="n" x="182" y="25.5">12</text>
<use href="#b" x="325"/><text class="n" x="342" y="25.5">13</text>
<use href="#b" x="486"/><text class="n" x="503" y="25.5">22</text>
</g>
<g id="r24" transform="translate(0,782.2)">
<path class="L" d="M7 6h8M99 6h8M127 6h8m4 0h8M179 6h8m5 0h8M167 18h8m4 0h8M259 6h8M339 6h8M488 6h8m4 0h8"/>
<path class="D" d="M87 6h8M167 6h8M247 6h8M327 6h8M367 6h8m4 0h8"/>
<use href="#b" x="205"/><text class="n" x="222" y="25.5">38</text>
<use href="#b" x="526"/><text class="n" x="543" y="25.5">29</text>
</g>
<g id="r25" transform="translate(0,809.75)">
<path class="L" d="M99 6h8m5 0h8M127 6h8M287 6h8M367 6h8M528 6h8M553 6h8M540 18h8"/>
<path class="D" d="M87 6h8M540 6h8M528 18h8"/>
<use href="#b" x="5"/><text class="n" x="22" y="25.5">14</text>
<use href="#b" x="45"/><text class="n" x="62" y="25.5">19</text>
<use href="#b" x="205"/><text class="e" x="209" y="25.5">...</text>
<use href="#b" x="405"/><text class="n" x="422" y="25.5">63</text>
<use href="#b" x="486"/><text class="n" x="503" y="25.5">10</text>
</g>
<g id="r26" transform="translate(0,837.3)">
<path class="L" d="M7 6h8M327 6h8"/>
<use href="#b" x="45"/><text class="n" x="62" y="25.5">14</text>
<use href="#b" x="85"/><text class="n" x="102" y="25.5">10</text>
<use href="#b" x="205"/><text class="n" x="222" y="25.5">71</text>
<use href="#b" x="405"/><text class="n" x="422" y="25.5">9</text>
<use href="#b" x="526"/><text class="n" x="543" y="25.5">9</text>
</g>
<g id="r27" transform="translate(0,864.85)">
<path class="L" d="M127 6h8M447 6h8m4 0h8m5 0h8M447 18h8m4 0h8m5 0h8M488 6h8M513 6h8M500 18h8M540 6h8"/>
<path class="D" d="M500 6h8M488 18h8M528 6h8"/>
<use href="#b" x="45"/><text class="n" x="62" y="25.5">8</text>
<use href="#b" x="205"/><text class="n" x="222" y="25.5">21</text>
<use href="#b" x="325"/><text class="n" x="342" y="25.5">7</text>
<use href="#b" x="405"/><text class="n" x="422" y="25.5">13</text>
</g>
<g id="r28" transform="translate(0,892.4)">
<path class="L" d="M127 6h8m4 0h8m5 0h8M127 18h8M299 6h8M327 6h8m4 0h8m5 0h8M379 6h8"/>
<path class="D" d="M7 6h8M287 6h8M367 6h8"/>
<use href="#b" x="165"/><text class="n" x="182" y="25.5">18</text>
<use href="#b" x="405"/><text class="n" x="422" y="25.5">15</text>
<use href="#b" x="486"/><text class="n" x="503" y="25.5">7</text>
</g>
<g id="r29" transform="translate(0,919.95)">
<path class="L" d="M7 6h8M32 6h8M207 6h8m4 0h8M259 6h8M247 18h8m4 0h8M367 6h8M488 6h8m4 0h8m5 0h8"/>
<path class="D" d="M19 6h8M247 6h8M272 6h8M488 18h8"/>
<use href="#b" x="85"/><text class="e" x="89" y="25.5">...</text>
<use href="#b" x="125"/><text class="e" x="129" y="25.5">...</text>
<use href="#b" x="165"/><text class="n" x="182" y="25.5">9</text>
<use href="#b" x="405"/><text class="n" x="422" y="25.5">15</text>
</g>
<g id="r30" transform="translate(0,947.5)">
<path class="L" d="M87 6h8m4 0h8M167 6h8m4 0h8m5 0h8M167 18h8M367 6h8M568 6h8m4 0h8M728 6h8"/>
<path class="D" d="M928 6h8"/>
<use href="#b" x="5"/><text class="n" x="22" y="25.5">8</text>
<use href="#b" x="486"/><text class="n" x="503" y="25.5">17</text>
<use href="#b" x="846"/><text class="n" x="863" y="25.5">29</text>
<use href="#b" x="967"/><text class="n" x="984" y="25.5">38</text>
<use href="#b" x="1047"/><text class="n" x="1064" y="25.5">43</text>
<use href="#b" x="1207"/><text class="n" x="1224" y="25.5">7</text>
<use href="#b" x="1247"/><text class="n" x="1264" y="25.5">12</text>
</g>
<g id="dividers">
<rect x="484" y="57" width="2" height="918" fill="#1a1a1a"/>
<rect x="965" y="57" width="2" height="918" fill="#1a1a1a"/>
</g>
<g id="bottombar">
<rect x="10" y="975" width="1397" height="2" fill="#303030"/>
<rect x="10" y="977" width="1397" height="6" fill="#808080"/>
</g>
<rect x="0" y="0" width="10" height="983" fill="#fff"/>
<g id="connectors">
<path class="arrow" d="M777 695L302.9 363.4"/>
<path class="arrow" d="M875 695L858.3 351"/>
<path class="arrow" d="M1016 695L1144.5 412.5"/>
<rect x="1405" y="326" width="2" height="15" fill="#ff0000"/>
</g>
<g id="callout">
<rect class="callout" x="570" y="695.5" width="900" height="251.5"/>
<text class="ct" x="592" y="799">Wide Range Of Data</text>
<text class="ct" x="592" y="914">To Search</text>
</g>
</svg>
